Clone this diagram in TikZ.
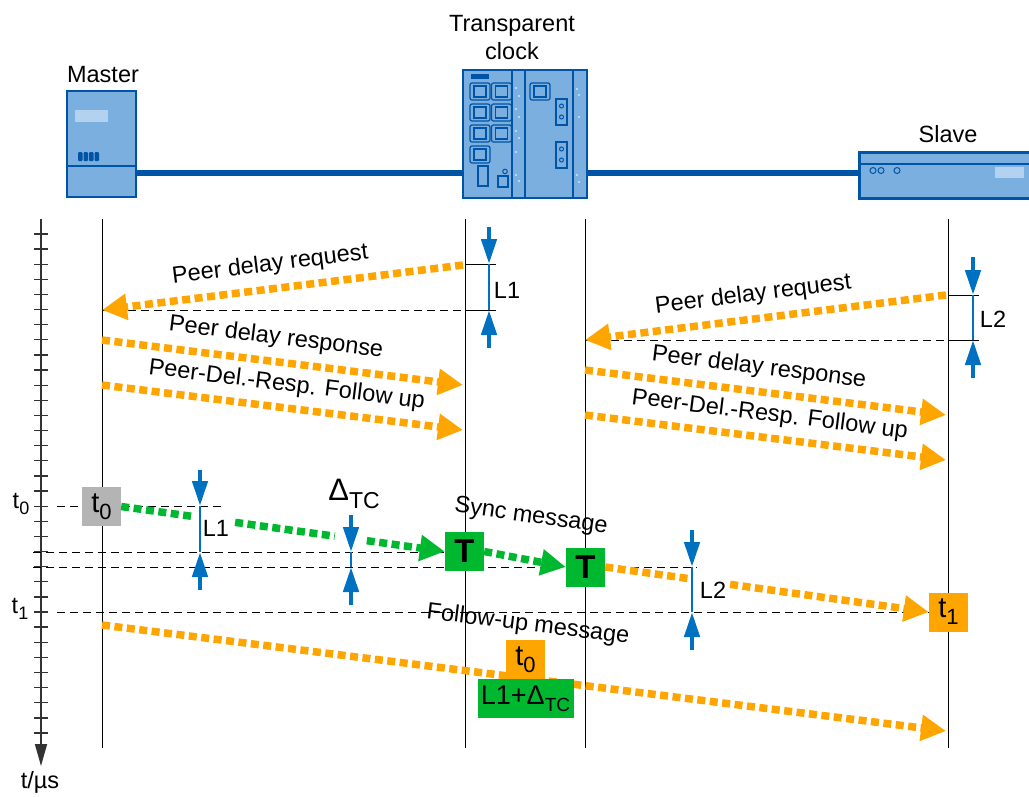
\documentclass[tikz,border=0pt]{standalone}
\usepackage{fontspec}
\setmainfont{Liberation Sans}
\usetikzlibrary{arrows.meta,calc}

\definecolor{msgorange}{RGB}{255,165,0}
\definecolor{syncgreen}{RGB}{0,184,48}
\definecolor{tsgray}{RGB}{180,180,180}
\definecolor{measblue}{RGB}{0,112,192}
\definecolor{devblue}{RGB}{0,84,166}
\definecolor{devfill}{RGB}{122,175,223}
\definecolor{devlight}{RGB}{178,210,240}

% lowered subscript in text font
\newcommand{\lowtext}[2]{\raisebox{-0.45ex}{\fontsize{#1}{#1}\selectfont #2}}

\tikzset{
  msg/.style={line width=7.5pt, dash pattern=on 8pt off 4.5pt},
  msgtip/.style={-{Triangle[length=25pt,width=25pt]}},
  measure/.style={measblue, line width=4.5pt, -{Triangle[length=25pt,width=15pt]}},
  gap/.style={measblue, line width=1.2pt},
  timeline/.style={black, line width=1pt},
  guide/.style={black, line width=0.9pt, dash pattern=on 8pt off 5pt},
  lbl/.style={text=black, font=\fontsize{23.5}{27}\selectfont, inner sep=1pt},
  stamp/.style={text=black, font=\fontsize{29}{30}\selectfont, inner sep=0pt,
    minimum width=39pt, minimum height=39pt},
  devbox/.style={draw=devblue, fill=devfill, line width=2.5pt, inner sep=0pt},
  port/.style={draw=devblue, line width=1.2pt, rounded corners=2pt},
  led/.style={fill=white},
}

\begin{document}
\begin{tikzpicture}[x=1pt,y=-1pt]
  \useasboundingbox (0,0) rectangle (1029,796);

  % devices and network cable
  \node[devbox, minimum width=69pt, minimum height=106pt] (master) at (101.5,144) {};
  \node[devbox, minimum width=124pt, minimum height=128pt] (tc) at (525,134) {};
  \node[devbox, minimum width=180pt, minimum height=46pt, anchor=north west] (slave) at (858,151) {};
  \draw[devblue, line width=5.5pt] (master.east |- 0,173) -- (tc.west |- 0,173);
  \draw[devblue, line width=5.5pt] (tc.east |- 0,173) -- (slave.west |- 0,173);

  \node[lbl] (mastername) at (103,75) {Master};
  \node[lbl, align=center, font=\fontsize{23.5}{28}\selectfont] (tcname) at (512,38) {Transparent\\clock};
  \node[lbl] (slavename) at (948,134) {Slave};

  % master details
  \draw[devblue, line width=1.5pt] (67,166) -- (136,166);
  \fill[devlight] (75,110) rectangle (108,122);
  \foreach \x in {78,83.5,89,94.5} \fill[devblue, rounded corners=1pt] (\x,152) rectangle ++(4.5,9);

  % transparent clock details
  \foreach \x in {512,525,573} \draw[devblue, line width=1.3pt] (\x,70) -- (\x,198);
  \fill[devblue] (471,74) rectangle (489,79);
  \foreach \x/\y in {470/83,491.5/83,470/104,491.5/104,470/125,491.5/125,470/146,530/83} {
    \draw[port] (\x,\y) rectangle ++(20,17);
    \draw[devblue, line width=1.2pt] (\x+4,\y+3) rectangle ++(12,11);
  }
  \foreach \y in {99,142} {
    \draw[devblue, line width=1.2pt] (556,\y) rectangle ++(11,26);
    \draw[devblue, line width=1pt] (561.5,\y+7) circle (2) (561.5,\y+18) circle (2);
  }
  \draw[devblue, line width=1.2pt] (478,166) rectangle (488,186);
  \draw[devblue, line width=1.2pt] (498,176) rectangle (508,187);
  \draw[devblue, line width=1pt] (505,171.5) circle (2.3);
  \foreach \x/\y in {516/88,519/96,516/109,519/117,516/131,519/138,516/152,516/175,519/181,
                     577/89,579/95,579/117,577/175,579/182}
    \fill[led] (\x,\y) circle (0.9);

  % slave details
  \draw[devblue, line width=1.5pt] (858,164) -- (1029,164);
  \foreach \x in {873,881,897} \draw[devblue, line width=1pt] (\x,170.5) circle (3);
  \fill[devlight] (995,167) rectangle (1024,178);

  % time axis
  \draw[black!80, line width=1.5pt, -{Triangle[length=22pt,width=12pt]}] (41,219) -- (41,766);
  \foreach \i in {0,...,33} \draw[black!80, line width=1.3pt] (34,{234+15.12*\i}) -- (48,{234+15.12*\i});
  \node[lbl] (tunit) at (40,782) {t/\textmu s};
  \node[lbl] (t0axis) at (21,504) {t\lowtext{18}{0}};
  \node[lbl] (t1axis) at (20,609) {t\lowtext{18}{1}};

  % time lines
  \foreach \x/\n in {102/mline,465/aline,585/bline,948/sline} {
    \coordinate (\n top) at (\x,219);
    \coordinate (\n bot) at (\x,748);
    \draw[timeline] (\n top) -- (\n bot);
  }

  % peer delay, master <-> transparent clock
  \coordinate (lreq0) at (463,265);  \coordinate (lreq1) at (102,310);
  \coordinate (lres0) at (102,340);  \coordinate (lres1) at (463,385);
  \coordinate (lfup0) at (102,385);  \coordinate (lfup1) at (463,430);
  \draw[guide] (lreq1) -- (465,310);
  \draw[line width=1pt] (465,310) -- (496,310) (465,264) -- (496,264);
  \draw[msg, msgtip, msgorange] (lreq0) -- (lreq1)
    node[lbl, pos=0.526, sloped, above=8pt] (lreqtext) {Peer delay request};
  \draw[msg, msgtip, msgorange] (lres0) -- (lres1)
    node[lbl, pos=0.474, sloped, above=8pt] (lrestext) {Peer delay response};
  \draw[msg, msgtip, msgorange] (lfup0) -- (lfup1)
    node[lbl, pos=0.504, sloped, above=7pt] (lfuptext) {Peer-Del.-Resp. Follow up};
  \coordinate (l1up) at (489,227);  \coordinate (l1a) at (489,264);
  \coordinate (l1b) at (489,310);   \coordinate (l1dn) at (489,348);
  \draw[gap] (l1a) -- (l1b);
  \draw[measure] (l1up) -- (l1a);
  \draw[measure] (l1dn) -- (l1b);
  \node[lbl] (l1text) at (507,290) {L1};

  % peer delay, transparent clock <-> slave
  \coordinate (rreq0) at (946,295);  \coordinate (rreq1) at (585,340);
  \coordinate (rres0) at (585,370);  \coordinate (rres1) at (946,415);
  \coordinate (rfup0) at (585,415);  \coordinate (rfup1) at (946,460);
  \draw[guide] (rreq1) -- (948,340);
  \draw[line width=1pt] (948,340) -- (979,340) (948,295) -- (979,295);
  \draw[msg, msgtip, msgorange] (rreq0) -- (rreq1)
    node[lbl, pos=0.526, sloped, above=8pt] (rreqtext) {Peer delay request};
  \draw[msg, msgtip, msgorange] (rres0) -- (rres1)
    node[lbl, pos=0.474, sloped, above=8pt] (rrestext) {Peer delay response};
  \draw[msg, msgtip, msgorange] (rfup0) -- (rfup1)
    node[lbl, pos=0.504, sloped, above=7pt] (rfuptext) {Peer-Del.-Resp. Follow up};
  \coordinate (l2up) at (973,257);  \coordinate (l2a) at (973,295);
  \coordinate (l2b) at (973,340);   \coordinate (l2dn) at (973,378);
  \draw[gap] (l2a) -- (l2b);
  \draw[measure] (l2up) -- (l2a);
  \draw[measure] (l2dn) -- (l2b);
  \node[lbl] (l2text) at (993,319) {L2};

  % sync and follow-up guide lines
  \draw[guide] (57,506) -- (222,506);
  \draw[guide] (33,552) -- (447,552);
  \draw[guide] (33,567) -- (697,567);
  \draw[guide] (57,612) -- (930,612);

  % time stamps
  \node[stamp, fill=tsgray] (t0stamp) at (101.5,506.5) {t\lowtext{22}{0}};
  \node[stamp, fill=syncgreen, font=\fontsize{33}{33}\selectfont\bfseries] (tca) at (464.5,551.5) {T};
  \node[stamp, fill=syncgreen, font=\fontsize{33}{33}\selectfont\bfseries] (tcb) at (585.5,567) {T};
  \node[stamp, fill=msgorange] (t1stamp) at (948.5,612) {t\lowtext{22}{1}};

  % sync message
  \draw[msg, syncgreen] (t0stamp.east) -- ($(t0stamp.east)!0.219!(tca.west)$);
  \draw[msg, syncgreen] ($(t0stamp.east)!0.352!(tca.west)$) -- ($(t0stamp.east)!0.66!(tca.west)$);
  \draw[msg, msgtip, syncgreen] ($(t0stamp.east)!0.759!(tca.west)$) -- (tca.west);
  \draw[msg, msgtip, syncgreen] (tca.east) -- (tcb.west);
  \draw[msg, msgorange] (tcb.east) -- ($(tcb.east)!0.262!(t1stamp.west)$);
  \draw[msg, msgtip, msgorange] ($(tcb.east)!0.386!(t1stamp.west)$) -- (t1stamp.west);
  \node[lbl, rotate=-8] (synctext) at (531,517) {Sync message};

  % path delays and residence time
  \coordinate (m1up) at (200,470);  \coordinate (m1a) at (200,506);
  \coordinate (m1b) at (200,552);   \coordinate (m1dn) at (200,590);
  \draw[gap] (m1a) -- (m1b);
  \draw[measure] (m1up) -- (m1a);
  \draw[measure] (m1dn) -- (m1b);
  \node[lbl] (m1text) at (216,528) {L1};

  \coordinate (dtup) at (351,515);  \coordinate (dta) at (351,552);
  \coordinate (dtb) at (351,567);   \coordinate (dtdn) at (351,605);
  \draw[gap] (dta) -- (dtb);
  \draw[measure] (dtup) -- (dta);
  \draw[measure] (dtdn) -- (dtb);
  \node[lbl, font=\fontsize{31}{31}\selectfont] (dttext) at (354,494) {Δ\lowtext{23}{TC}};

  \coordinate (m2up) at (692,530);  \coordinate (m2a) at (692,567);
  \coordinate (m2b) at (692,612);   \coordinate (m2dn) at (692,650);
  \draw[gap] (m2a) -- (m2b);
  \draw[measure] (m2up) -- (m2a);
  \draw[measure] (m2dn) -- (m2b);
  \node[lbl] (m2text) at (713,590) {L2};

  % follow-up message
  \coordinate (fup0) at (102,625);  \coordinate (fup1) at (946,731);
  \draw[msg, msgtip, msgorange] (fup0) -- (fup1);
  \node[lbl, rotate=-7] (fuptext) at (528,625) {Follow-up message};
  \node[stamp, fill=msgorange] (t0copy) at (525.5,659.5) {t\lowtext{22}{0}};
  \node[stamp, fill=syncgreen, minimum width=96pt, font=\fontsize{27}{30}\selectfont, anchor=north]
    (corr) at (t0copy.south) {L1+Δ\lowtext{19}{TC}};
\end{tikzpicture}
\end{document}
